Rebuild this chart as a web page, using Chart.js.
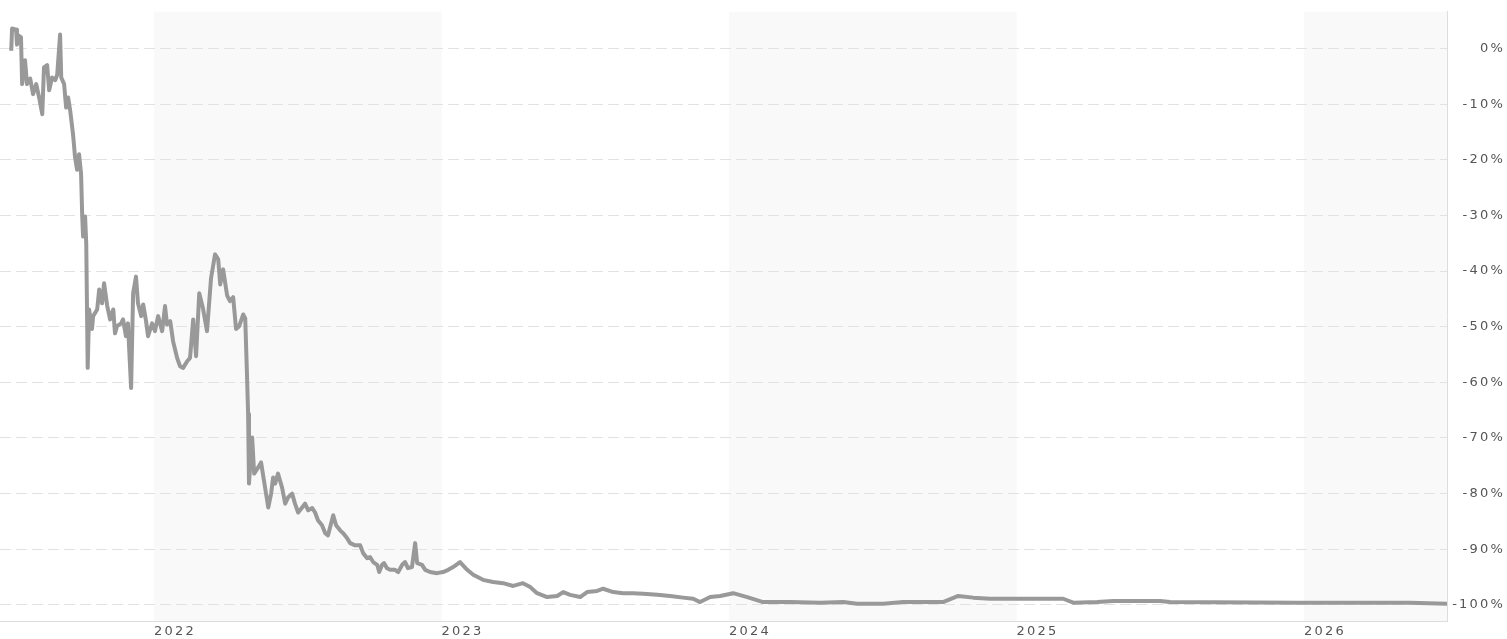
<!DOCTYPE html>
<html>
<head>
<meta charset="utf-8">
<title>Performance</title>
<script src="https://cdn.jsdelivr.net/npm/chart.js@4.4.1/dist/chart.umd.min.js"></script>
<style>
  html, body { margin: 0; padding: 0; background: #fff; }
  #chart { display: block; }
</style>
</head>
<body>
<canvas id="chart" width="1507" height="639"></canvas>
<script>
// x positions as decimal years, y as % change since start
const years = [
  2021.503, 2021.506, 2021.520, 2021.523, 2021.530, 2021.537, 2021.541, 2021.551, 2021.558, 2021.569,
  2021.579, 2021.590, 2021.600, 2021.611, 2021.617, 2021.628, 2021.635, 2021.645, 2021.656, 2021.663,
  2021.673, 2021.677, 2021.687, 2021.694, 2021.701, 2021.708, 2021.718, 2021.725, 2021.732, 2021.739,
  2021.746, 2021.750, 2021.753, 2021.760, 2021.764, 2021.769, 2021.774, 2021.784, 2021.788, 2021.802,
  2021.809, 2021.819, 2021.826, 2021.837, 2021.847, 2021.858, 2021.864, 2021.871, 2021.885, 2021.892,
  2021.902, 2021.909, 2021.920, 2021.927, 2021.937, 2021.944, 2021.955, 2021.962, 2021.972, 2021.979,
  2021.993, 2022.003, 2022.014, 2022.028, 2022.038, 2022.045, 2022.056, 2022.066, 2022.080, 2022.090,
  2022.101, 2022.115, 2022.125, 2022.136, 2022.146, 2022.157, 2022.170, 2022.184, 2022.198, 2022.212,
  2022.223, 2022.230, 2022.240, 2022.254, 2022.264, 2022.275, 2022.285, 2022.296, 2022.310, 2022.317,
  2022.323, 2022.327, 2022.330, 2022.341, 2022.348, 2022.362, 2022.372, 2022.386, 2022.397, 2022.407,
  2022.414, 2022.421, 2022.431, 2022.445, 2022.456, 2022.466, 2022.480, 2022.490, 2022.501, 2022.515,
  2022.525, 2022.536, 2022.550, 2022.560, 2022.570, 2022.584, 2022.595, 2022.605, 2022.623, 2022.633,
  2022.647, 2022.657, 2022.671, 2022.682, 2022.699, 2022.717, 2022.727, 2022.741, 2022.751, 2022.762,
  2022.776, 2022.783, 2022.793, 2022.800, 2022.810, 2022.821, 2022.838, 2022.849, 2022.863, 2022.873,
  2022.883, 2022.897, 2022.908, 2022.915, 2022.932, 2022.943, 2022.960, 2022.984, 2023.005, 2023.023,
  2023.040, 2023.064, 2023.089, 2023.110, 2023.144, 2023.179, 2023.214, 2023.249, 2023.283, 2023.308,
  2023.332, 2023.367, 2023.402, 2023.423, 2023.447, 2023.482, 2023.506, 2023.541, 2023.562, 2023.597,
  2023.631, 2023.666, 2023.701, 2023.750, 2023.795, 2023.840, 2023.875, 2023.899, 2023.934, 2023.969,
  2024.014, 2024.063, 2024.118, 2024.212, 2024.317, 2024.397, 2024.445, 2024.536, 2024.605, 2024.744,
  2024.797, 2024.849, 2024.908, 2025.002, 2025.162, 2025.197, 2025.280, 2025.336, 2025.499, 2025.534,
  2025.986, 2026.219, 2026.369, 2026.497
]
const returns = [
  -0.4, 3.6, 3.4, 0.7, 2.3, 2.0, -6.4, -2.1, -6.4, -5.4,
  -8.2, -6.4, -8.8, -11.8, -3.4, -3.0, -7.5, -5.2, -5.7, -4.7,
  2.5, -5.2, -6.4, -10.6, -8.8, -11.1, -15.4, -19.5, -21.8, -19.0,
  -22.5, -30.2, -33.8, -30.2, -35.1, -57.4, -46.9, -50.4, -48.1, -46.9,
  -43.3, -45.8, -42.2, -46.3, -48.7, -46.9, -51.2, -49.9, -49.4, -48.7,
  -51.7, -49.4, -61.0, -44.0, -41.0, -45.8, -48.1, -46.0, -49.0, -51.7,
  -49.4, -50.8, -48.1, -50.8, -46.3, -49.6, -49.0, -52.6, -55.6, -57.1,
  -57.4, -56.2, -55.6, -48.7, -55.3, -44.0, -46.7, -50.8, -41.3, -37.0,
  -37.9, -42.4, -39.7, -44.4, -45.4, -44.7, -50.4, -49.9, -47.8, -48.5,
  -58.5, -65.7, -78.2, -69.9, -76.4, -75.3, -74.4, -78.9, -82.5, -80.0,
  -77.1, -78.2, -76.4, -78.9, -81.8, -80.7, -80.0, -81.8, -83.4, -82.5,
  -81.8, -83.0, -82.6, -83.4, -84.8, -85.7, -87.1, -87.5, -83.9, -85.7,
  -86.6, -87.1, -88.0, -88.9, -89.3, -89.3, -90.7, -91.6, -91.4, -92.3,
  -92.8, -94.1, -92.8, -92.5, -93.4, -93.7, -93.7, -94.1, -92.8, -92.3,
  -93.4, -93.2, -88.9, -92.5, -92.8, -93.7, -94.1, -94.3, -94.1, -93.7,
  -93.2, -92.3, -93.7, -94.6, -95.5, -95.9, -96.1, -96.6, -96.1, -96.8,
  -97.9, -98.6, -98.4, -97.7, -98.2, -98.6, -97.7, -97.5, -97.1, -97.7,
  -97.9, -97.9, -98.0, -98.2, -98.4, -98.7, -98.9, -99.5, -98.6, -98.4,
  -97.9, -98.6, -99.5, -99.5, -99.6, -99.5, -99.8, -99.8, -99.5, -99.5,
  -98.4, -98.7, -98.9, -98.9, -98.9, -99.6, -99.5, -99.3, -99.3, -99.5,
  -99.6, -99.6, -99.6, -99.8
]
const yearTicks = [2022, 2023, 2024, 2025, 2026]
const shadedYears = [2022, 2024, 2026]
const pctTicks = [0, -10, -20, -30, -40, -50, -60, -70, -80, -90, -100]

const points = years.map((x, i) => ({ x, y: returns[i] }))

// light bands behind every other year
const yearBands = {
  id: 'yearBands',
  beforeDraw (chart) {
    const { ctx, chartArea, scales } = chart
    ctx.letterSpacing = '2.2px'
    ctx.save()
    ctx.fillStyle = '#f9f9f9'
    shadedYears.forEach(y => {
      const x1 = Math.max(scales.x.getPixelForValue(y), chartArea.left)
      const x2 = Math.min(scales.x.getPixelForValue(y + 1), chartArea.right)
      ctx.fillRect(x1, chartArea.top, x2 - x1, chartArea.bottom - chartArea.top)
    })
    ctx.restore()
  }
}

new Chart(document.getElementById('chart').getContext('2d'), {
  type: 'line',
  data: {
    datasets: [{
      data: points,
      borderColor: '#999999',
      borderWidth: 4,
      borderJoinStyle: 'round',
      pointRadius: 0,
      tension: 0,
      fill: false
    }]
  },
  options: {
    responsive: false,
    animation: false,
    layout: { padding: { top: 9, right: 2, left: 0, bottom: 0 } },
    plugins: { legend: { display: false }, tooltip: { enabled: false } },
    scales: {
      x: {
        type: 'linear',
        min: 2021.464,
        max: 2026.497,
        afterBuildTicks (scale) { scale.ticks = yearTicks.map(v => ({ value: v })) },
        afterFit (scale) { scale.height = 18 },
        grid: { display: false, drawTicks: false },
        border: { display: true, color: '#dddddd' },
        ticks: {
          align: 'start',
          autoSkip: false,
          maxRotation: 0,
          padding: 3,
          color: '#555555',
          font: { family: 'DejaVu Sans', size: 13 },
          callback: v => String(v)
        }
      },
      y: {
        position: 'right',
        min: -102.9,
        max: 6.6,
        afterBuildTicks (scale) { scale.ticks = pctTicks.map(v => ({ value: v })) },
        afterFit (scale) { scale.width = 58 },
        grid: { color: '#e2e2e2', drawTicks: false },
        border: { display: true, color: '#dddddd', dash: [11, 5] },
        ticks: {
          crossAlign: 'far',
          padding: 4,
          color: '#555555',
          font: { family: 'DejaVu Sans', size: 13 },
          callback: v => v + '%'
        }
      }
    }
  },
  plugins: [yearBands]
})
</script>
</body>
</html>
